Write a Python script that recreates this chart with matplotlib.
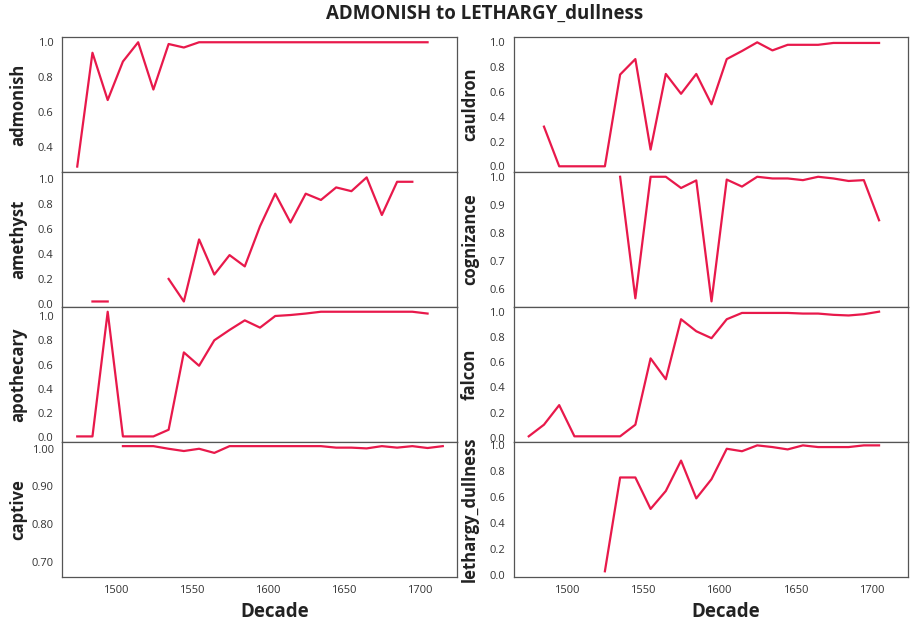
import numpy as np
import matplotlib
matplotlib.use("Agg")
import matplotlib.pyplot as plt
from matplotlib.ticker import MultipleLocator, FormatStrFormatter

plt.rcParams['font.family'] = ['Open Sans', 'DejaVu Sans']

nan = np.nan

# Decade starts; each decade is plotted at its midpoint
decades = [1470, 1480, 1490, 1500, 1510, 1520, 1530, 1540, 1550, 1560, 1570, 1580,
           1590, 1600, 1610, 1620, 1630, 1640, 1650, 1660, 1670, 1680, 1690, 1700, 1710]

admonish = [0.29, 0.94, 0.67, 0.89, 1.0, 0.73, 0.99, 0.97, 1.0, 1.0, 1.0, 1.0,
            1.0, 1.0, 1.0, 1.0, 1.0, 1.0, 1.0, 1.0, 1.0, 1.0, 1.0, 1.0, nan]

amethyst = [nan, 0.02, 0.02, nan, nan, nan, 0.20, 0.02, 0.515, 0.235, 0.39, 0.30,
            0.62, 0.88, 0.65, 0.88, 0.83, 0.93, 0.90, 1.01, 0.71, 0.975, 0.975, nan, nan]

apothecary = [0.008, 0.008, 1.035, 0.008, 0.008, 0.008, 0.063, 0.70, 0.59, 0.80, 0.885, 0.964,
              0.904, 1.0, 1.008, 1.02, 1.035, 1.035, 1.035, 1.035, 1.035, 1.035, 1.035, 1.02, nan]

captive = [nan, 0.675, nan, 1.007, 1.007, 1.007, 1.0, 0.994, 1.0, 0.989, 1.007, 1.007,
           1.007, 1.007, 1.007, 1.007, 1.007, 1.003, 1.003, 1.001, 1.007, 1.003, 1.007, 1.002, 1.007]

cauldron = [nan, 0.32, 0.0, 0.0, 0.0, 0.0, 0.74, 0.865, 0.135, 0.745, 0.585, 0.745,
            0.50, 0.865, 0.93, 1.0, 0.935, 0.98, 0.98, 0.98, 0.995, 0.995, 0.995, 0.995, nan]

cognizance = [nan, nan, nan, nan, nan, nan, 1.0, 0.567, 1.0, 1.0, 0.96, 0.987,
              0.556, 0.99, 0.965, 1.0, 0.994, 0.994, 0.988, 1.0, 0.994, 0.985, 0.988, 0.845, nan]

falcon = [0.013, 0.105, 0.26, 0.013, 0.013, 0.013, 0.013, 0.105, 0.63, 0.465, 0.94, 0.845,
          0.79, 0.94, 0.99, 0.99, 0.99, 0.99, 0.985, 0.985, 0.975, 0.97, 0.98, 1.0, nan]

lethargy_dullness = [nan, nan, nan, nan, nan, 0.026, 0.748, 0.748, 0.506, 0.644, 0.878, 0.587,
                     0.735, 0.969, 0.95, 0.995, 0.982, 0.964, 0.995, 0.982, 0.982, 0.982, 0.995, 0.995, nan]

left_words = ['admonish', 'amethyst', 'apothecary', 'captive']
right_words = ['cauldron', 'cognizance', 'falcon', 'lethargy_dullness']
series = {
    'admonish': admonish, 'amethyst': amethyst, 'apothecary': apothecary, 'captive': captive,
    'cauldron': cauldron, 'cognizance': cognizance, 'falcon': falcon,
    'lethargy_dullness': lethargy_dullness,
}

# y ranges and tick steps per panel
ylims = {
    'admonish': (0.259, 1.030), 'amethyst': (-0.024, 1.053), 'apothecary': (-0.038, 1.074),
    'captive': (0.659, 1.018), 'cauldron': (-0.046, 1.043), 'cognizance': (0.536, 1.017),
    'falcon': (-0.032, 1.037), 'lethargy_dullness': (-0.018, 1.021),
}
ysteps = {
    'admonish': 0.2, 'amethyst': 0.2, 'apothecary': 0.2, 'captive': 0.1,
    'cauldron': 0.2, 'cognizance': 0.1, 'falcon': 0.2, 'lethargy_dullness': 0.2,
}

W, H = 910, 625
fig = plt.figure(figsize=(W / 100, H / 100), dpi=100)
left, right = 62 / W, 908 / W
top, bottom = 1 - 37 / H, 1 - 577 / H
axes = fig.subplots(4, 2, sharex=True,
                    gridspec_kw=dict(left=left, right=right, top=top, bottom=bottom,
                                     hspace=0, wspace=57 / 394.5))

line_color = '#e8194b'
x = np.array(decades) + 5

for col, words in enumerate([left_words, right_words]):
    for row, word in enumerate(words):
        ax = axes[row, col]
        ax.plot(x, series[word], color=line_color, lw=1.6)
        ax.set_ylim(*ylims[word])
        ax.yaxis.set_major_locator(MultipleLocator(ysteps[word]))
        if word == 'captive':
            ax.yaxis.set_major_formatter(FormatStrFormatter('%.2f'))
        else:
            ax.yaxis.set_major_formatter(FormatStrFormatter('%.1f'))
        ax.set_ylabel(word, fontsize=12, fontweight='bold', color='#222222')
        ax.yaxis.set_label_coords(-0.088, 0.5)
        ax.tick_params(length=0, pad=6, labelsize=8, labelcolor='#333333')
        for s in ax.spines.values():
            s.set_color('#555555')
            s.set_linewidth(0.9)
        if row == 3:
            ax.set_xlabel('Decade', fontsize=13.5, fontweight='bold', color='#222222', labelpad=4)
            ax.xaxis.label.set_x(0.538)

axes[0, 0].set_xlim(1465, 1724)
axes[0, 0].xaxis.set_major_locator(MultipleLocator(50))

fig.suptitle('ADMONISH to LETHARGY_dullness', x=(left + right) / 2, y=1 - 14 / H,
             va='center', fontsize=13.5, fontweight='bold', color='#222222')

fig.savefig('out.png', dpi=100)
